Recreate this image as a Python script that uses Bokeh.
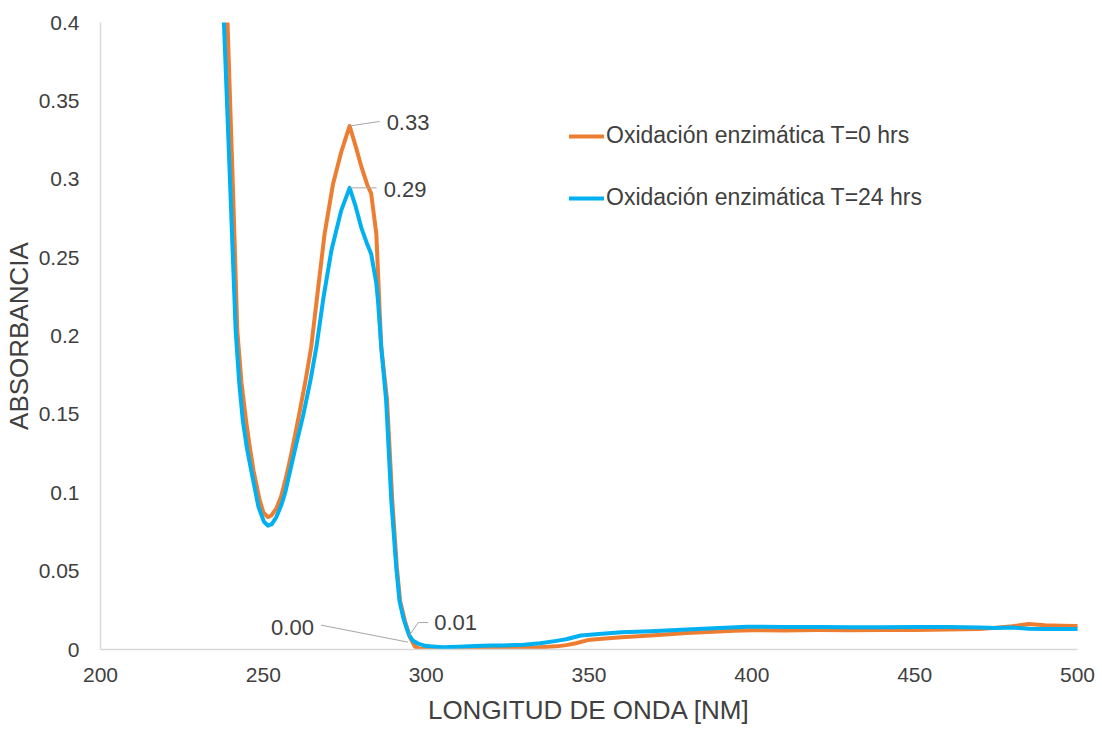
from bokeh.plotting import figure
from bokeh.models import Range1d, FixedTicker, Legend, LegendItem, ColumnDataSource
from bokeh.core.properties import value
from bokeh.embed import file_html
from bokeh.resources import INLINE

# ---- data ----
wl_t0 = [236, 239, 240.8, 242, 243.3, 244.7, 246, 247, 248.8, 250, 251.4, 252.5, 254, 255.5,
         257, 258.5, 261, 263, 264.7, 266.8, 268.8, 271.4, 274, 276.5, 278.5, 280.1, 282,
         283.1, 284.7, 286.2, 288, 289.6, 291, 292, 293.5, 295, 296.5, 298, 300, 305, 310,
         315, 320, 323, 330, 335, 340, 343, 346, 349.6, 355, 360, 369, 380, 394.5, 400, 410,
         420, 430, 440, 450, 460, 470, 475, 480, 485, 490, 495, 500]
abs_t0 = [0.45, 0.400, 0.286, 0.2035, 0.170, 0.146, 0.127, 0.114, 0.096, 0.0875, 0.0845, 0.0855,
          0.090, 0.098, 0.110, 0.124, 0.150, 0.172, 0.193, 0.230, 0.265, 0.297, 0.318, 0.334,
          0.320, 0.308, 0.296, 0.291, 0.265, 0.193, 0.159, 0.095, 0.0525, 0.031, 0.018, 0.008,
          0.002, 0.0004, 0.0004, 0.0003, 0.0005, 0.001, 0.001, 0.0006, 0.001, 0.0015, 0.002,
          0.0028, 0.004, 0.006, 0.007, 0.0078, 0.0089, 0.0105, 0.012, 0.0123, 0.0122, 0.0124,
          0.0123, 0.0124, 0.0124, 0.0127, 0.0130, 0.0138, 0.0148, 0.0162, 0.0155, 0.0152, 0.0150]

wl_t24 = [235.5, 237.9, 240, 241.5, 242.6, 243.7, 245, 246.3, 248.5, 250.2, 251.4, 252.6, 254,
          255.5, 256.7, 258, 260, 262.3, 264.5, 266.3, 268.5, 270.9, 273.9, 276.5, 278.3, 280.1,
          282, 283.1, 284.7, 285.2, 286.2, 287.7, 289.3, 290.8, 291.8, 293, 293.9, 294.8, 296,
          297.5, 300, 305, 310, 315, 320, 323, 330, 335, 340, 343, 347.5, 355, 360, 369, 380,
          390, 398.7, 410, 420, 430, 440, 450, 460, 470, 475, 480, 485, 490, 495, 500]
abs_t24 = [0.45, 0.400, 0.286, 0.2035, 0.170, 0.146, 0.128, 0.114, 0.091, 0.0815, 0.079, 0.080,
           0.0845, 0.092, 0.100, 0.112, 0.130, 0.150, 0.172, 0.193, 0.225, 0.2545, 0.280, 0.2945,
           0.283, 0.269, 0.258, 0.2525, 0.2335, 0.2227, 0.193, 0.159, 0.095, 0.0525, 0.031, 0.020,
           0.0142, 0.0089, 0.0055, 0.0038, 0.0022, 0.0015, 0.0018, 0.0022, 0.0025, 0.0026, 0.003,
           0.004, 0.0055, 0.0065, 0.0089, 0.0102, 0.011, 0.0117, 0.0128, 0.0137, 0.0145, 0.0144,
           0.0143, 0.0142, 0.0142, 0.0143, 0.0143, 0.0141, 0.0137, 0.0140, 0.0132, 0.0131, 0.0130,
           0.0130]

series_names = ["Oxidación enzimática T=0 hrs", "Oxidación enzimática T=24 hrs"]
x_ticks = [200, 250, 300, 350, 400, 450, 500]
y_ticks = [0, 0.05, 0.1, 0.15, 0.2, 0.25, 0.3, 0.35, 0.4]
y_tick_labels = ["0", "0.05", "0.1", "0.15", "0.2", "0.25", "0.3", "0.35", "0.4"]
x_title = "LONGITUD DE ONDA [NM]"
y_title = "ABSORBANCIA"

# annotated data points (x, y) and their labels
ann_x = [276.5, 276.5, 294.4, 294.8]
ann_y = [0.334, 0.2945, 0.0047, 0.0089]
ann_text = [f"{v:.2f}" for v in ann_y]

# ---- style ----
FONT = "Liberation Sans"
TXT = "#404040"
ORANGE = "#ED7D31"
BLUE = "#00B0F0"
W, H = 1102, 730
BL, BR, BT, BB = 99, 25, 22, 81
X0, X1, Y0, Y1 = 200, 500, 0, 0.4

p = figure(width=W, height=H, x_range=Range1d(X0, X1), y_range=Range1d(Y0, Y1),
           output_backend="svg", toolbar_location=None,
           min_border_left=BL, min_border_right=BR, min_border_top=BT, min_border_bottom=BB)
p.grid.visible = False
p.outline_line_color = None
p.background_fill_color = "white"
p.border_fill_color = "white"

for ax in (p.xaxis[0], p.yaxis[0]):
    ax.axis_line_color = "#D9D9D9"
    ax.axis_line_width = 1.5
    ax.major_tick_line_color = None
    ax.minor_tick_line_color = None
    ax.major_tick_out = 0
    ax.major_tick_in = 0
    ax.minor_tick_out = 0
    ax.minor_tick_in = 0
    ax.major_label_text_font = FONT
    ax.major_label_text_font_size = "21px"
    ax.major_label_text_color = TXT
    ax.axis_label_text_font = FONT
    ax.axis_label_text_font_size = "26px"
    ax.axis_label_text_font_style = "normal"
    ax.axis_label_text_color = TXT

p.xaxis[0].ticker = FixedTicker(ticks=x_ticks)
p.yaxis[0].ticker = FixedTicker(ticks=y_ticks)
p.yaxis[0].major_label_overrides = {t: s for t, s in zip(y_ticks, y_tick_labels)}
p.xaxis[0].major_label_standoff = 18
p.yaxis[0].major_label_standoff = 21
p.xaxis[0].axis_label = x_title
p.yaxis[0].axis_label = y_title
p.xaxis[0].axis_label_standoff = 10
p.yaxis[0].axis_label_standoff = 2

r0 = p.line(wl_t0, abs_t0, line_color=ORANGE, line_width=4, line_join="round", line_cap="round")
r1 = p.line(wl_t24, abs_t24, line_color=BLUE, line_width=4, line_join="round", line_cap="round")

# leader lines (pixel offsets from each annotated point)
ppx = (W - BL - BR) / (X1 - X0)
ppy = (H - BT - BB) / (Y1 - Y0)
leader_px = [[(0, 0), (30, -4.5)],
             [(0, 0), (27, 0)],
             [(0, 0), (-87, -17)],
             [(0, 0), (9, -13), (19, -13)]]
xs, ys = [], []
for x, y, path in zip(ann_x, ann_y, leader_px):
    xs.append([x + dx / ppx for dx, dy in path])
    ys.append([y - dy / ppy for dx, dy in path])
p.multi_line(xs, ys, line_color="#A6A6A6", line_width=1)

src = ColumnDataSource(dict(x=ann_x, y=ann_y, text=ann_text,
                            xo=[37, 34, -94, 25], yo=[-3.5, 1.6, -15, -13],
                            al=["left", "left", "right", "left"]))
p.text(x="x", y="y", text="text", x_offset="xo", y_offset="yo", text_align="al",
       text_baseline="middle", text_font=value(FONT), text_font_size="22px",
       text_color=TXT, source=src)

legend = Legend(items=[LegendItem(label=series_names[0], renderers=[r0]),
                       LegendItem(label=series_names[1], renderers=[r1])],
                location=(469, 438), glyph_width=35, glyph_height=22, label_height=22,
                label_width=10, spacing=35, padding=0, margin=0, label_standoff=2,
                border_line_color=None, background_fill_alpha=0,
                label_text_font=FONT, label_text_font_size="23px", label_text_color=TXT)
p.add_layout(legend, "center")

open("out.html", "w").write(file_html(p, INLINE))
